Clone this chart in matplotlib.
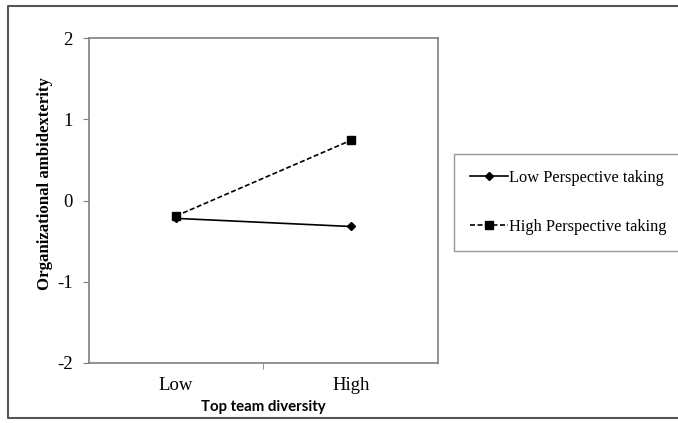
import matplotlib
matplotlib.use("Agg")
import matplotlib.pyplot as plt
from matplotlib.lines import Line2D

# data
categories = ["Low", "High"]
low_pt = [-0.22, -0.32]
high_pt = [-0.19, 0.74]
series_names = ["Low Perspective taking", "High Perspective taking"]
y_ticks = [-2, -1, 0, 1, 2]

serif = "Liberation Serif"
grey = "#7f7f7f"

fig = plt.figure(figsize=(6.78, 4.23), dpi=100)

# outer frame (right side is cut off in the original picture)
fig.lines.append(Line2D([1.01, 0.012, 0.012, 1.01], [0.986, 0.986, 0.012, 0.012],
                        transform=fig.transFigure, color="#555555", linewidth=1.5))

ax = fig.add_axes([0.131, 0.142, 0.515, 0.768])
x = list(range(len(categories)))
ax.plot(x, low_pt, color="black", linestyle="-", linewidth=1.2,
        marker="D", markersize=4, label=series_names[0])
ax.plot(x, high_pt, color="black", linestyle=(0, (3, 1.5)), linewidth=1.2,
        marker="s", markersize=6, label=series_names[1])

ax.set_xlim(-0.5, 1.5)
ax.set_ylim(-2, 2)
ax.set_yticks(y_ticks)
ax.set_yticklabels([str(v) for v in y_ticks], fontfamily=serif, fontsize=13.5)
ax.set_xticks(x)
ax.set_xticklabels(categories, fontfamily=serif, fontsize=13.5)
ax.set_xticks([0.5], minor=True)
ax.tick_params(axis="x", which="major", length=0, pad=10)
ax.tick_params(axis="x", which="minor", length=4, color=grey, direction="out")
ax.tick_params(axis="y", length=4.5, color=grey, direction="out", pad=7)

for s in ax.spines.values():
    s.set_color(grey)
    s.set_linewidth(1.2)

ax.set_ylabel("Organizational ambidexterity", fontfamily=serif, fontsize=12.1,
              fontweight="bold")
ax.yaxis.set_label_coords(-0.103, 0.551)
ax.set_xlabel("Top team diversity", fontfamily="Lato", fontsize=10.8,
              fontweight="bold")
ax.xaxis.set_label_coords(0.5, -0.115)

leg = fig.legend(loc="upper left", bbox_to_anchor=(0.670, 0.636),
                 prop={"family": serif, "size": 11.8}, frameon=True,
                 fancybox=False, edgecolor=grey, handlelength=2.3,
                 handletextpad=0.1, labelspacing=2.05, borderpad=0.95,
                 borderaxespad=0)
leg.get_frame().set_linewidth(1.0)

fig.savefig("out.png", dpi=100)
